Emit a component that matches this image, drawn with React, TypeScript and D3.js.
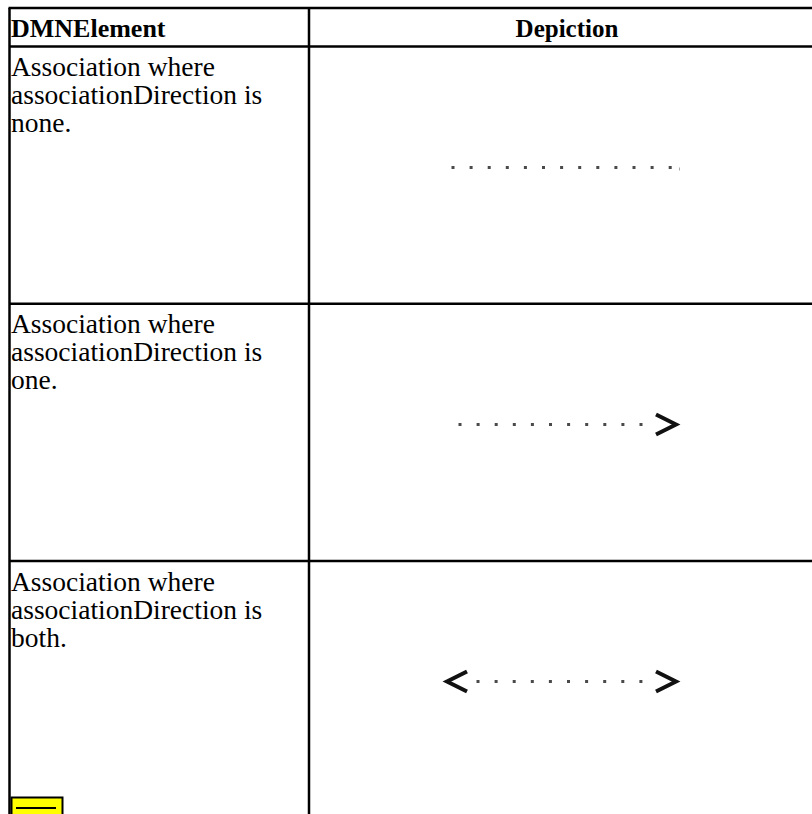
import React from "react";
import * as d3 from "d3";

const headers = ["DMNElement", "Depiction"];
const rowLabels = [
  ["Association where", "associationDirection is", "none."],
  ["Association where", "associationDirection is", "one."],
  ["Association where", "associationDirection is", "both."],
];
const directions = ["none", "one", "both"];
const dotCounts = [13, 11, 10];
const dotStart = [453, 460, 478];

const W = 812;
const H = 814;

export default function App() {
  const tableLeft = 9.5;
  const tableRight = 825;
  const tableTop = 8;
  const headerBottom = 46.5;
  const colSplit = 309;
  const rowH = 257.3;

  const y = d3
    .scaleBand<number>()
    .domain(d3.range(rowLabels.length))
    .range([headerBottom, headerBottom + rowH * rowLabels.length])
    .paddingInner(0)
    .paddingOuter(0);

  const font = "'Liberation Serif', 'Times New Roman', serif";
  const spacing = 18.1;

  return (
    <svg
      width={W}
      height={H}
      style={{ position: "absolute", left: 0, top: 0, background: "#fff" }}
    >
      <rect x={0} y={0} width={W} height={H} fill="#fff" />
      <text x={11} y={37} fontFamily={font} fontSize={26} fontWeight="bold" fill="#000">
        {headers[0]}
      </text>
      <text
        x={567}
        y={37}
        fontFamily={font}
        fontSize={25}
        fontWeight="bold"
        textAnchor="middle"
        fill="#000"
      >
        {headers[1]}
      </text>
      {rowLabels.map((lines, i) => {
        const top = y(i)!;
        const cy = Math.round(top + 120) + 0.5;
        const n = dotCounts[i];
        const x0 = dotStart[i];
        const dx = d3.scaleLinear().domain([0, 1]).range([x0, x0 + spacing]);
        const dir = directions[i];
        return (
          <g key={i}>
            {lines.map((ln, j) => (
              <text key={j} x={11} y={top + 29.5 + j * 28} fontFamily={font} fontSize={27.5} fill="#000">
                {ln}
              </text>
            ))}
            {d3.range(n).map((k) => (
              <rect key={k} x={dx(k) - 1.5} y={cy - 1.5} width={3} height={3} fill="#4a4a4a" />
            ))}
            {dir === "none" && <rect x={679} y={cy} width={1} height={3} fill="#aaa" />}
            {(dir === "one" || dir === "both") && (
              <path
                d={`M656,${cy - 10} L676,${cy} L656,${cy + 10}`}
                fill="none"
                stroke="#111"
                strokeWidth={4}
                strokeLinejoin="miter"
              />
            )}
            {dir === "both" && (
              <path
                d={`M467,${cy - 10} L447,${cy} L467,${cy + 10}`}
                fill="none"
                stroke="#111"
                strokeWidth={4}
                strokeLinejoin="miter"
              />
            )}
          </g>
        );
      })}
      <line x1={tableLeft - 1} x2={tableRight} y1={tableTop} y2={tableTop} stroke="#000" strokeWidth={2.5} />
      <line x1={tableLeft} x2={tableRight} y1={headerBottom} y2={headerBottom} stroke="#000" strokeWidth={2.5} />
      {d3.range(1, rowLabels.length).map((i) => (
        <line key={i} x1={tableLeft} x2={tableRight} y1={y(i)!} y2={y(i)!} stroke="#000" strokeWidth={2.5} />
      ))}
      <line x1={tableLeft} x2={tableLeft} y1={tableTop} y2={H + 10} stroke="#000" strokeWidth={2.5} />
      <line x1={colSplit} x2={colSplit} y1={tableTop} y2={H + 10} stroke="#000" strokeWidth={2.5} />
      <rect x={11.5} y={797.5} width={51} height={20} fill="#ffff00" stroke="#000" strokeWidth={2} />
      <line x1={16} x2={56} y1={808} y2={808} stroke="#000" strokeWidth={2} />
    </svg>
  );
}
